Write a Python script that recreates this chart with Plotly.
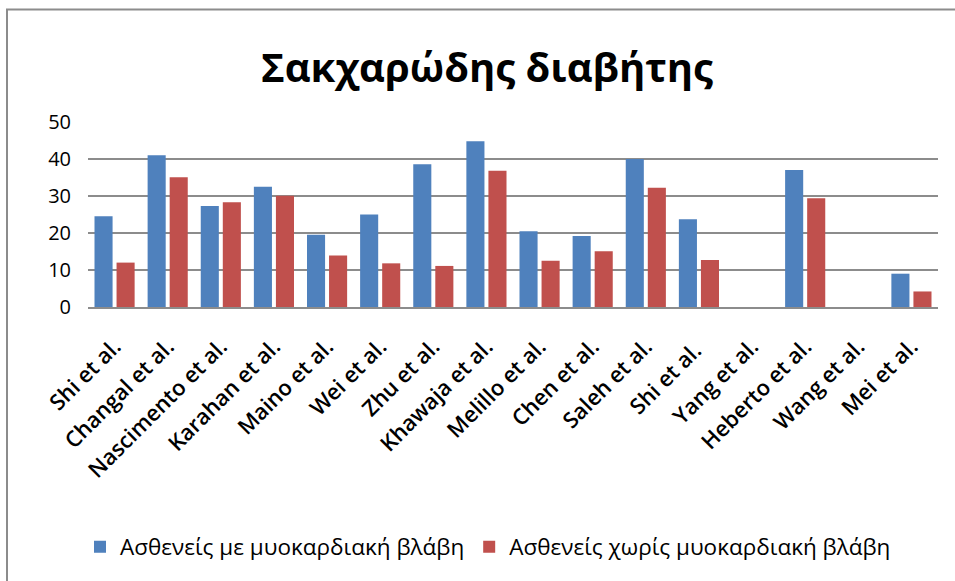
import plotly.graph_objects as go

categories = ["Shi et al.", "Changal et al.", "Nascimento et al.", "Karahan et al.",
              "Maino et al.", "Wei et al.", "Zhu et al.", "Khawaja et al.",
              "Melillo et al.", "Chen et al.", "Saleh et al.", "Shi et al. ",
              "Yang et al.", "Heberto et al.", "Wang et al.", "Mei et al."]
with_injury = [24.5, 41.0, 27.3, 32.5, 19.5, 25.0, 38.6, 44.8,
               20.5, 19.2, 40.0, 23.7, None, 37.0, None, 9.0]
without_injury = [12.0, 35.1, 28.3, 30.1, 13.9, 11.8, 11.1, 36.8,
                  12.5, 15.1, 32.2, 12.7, None, 29.4, None, 4.2]
series_names = ["Ασθενείς με μυοκαρδιακή βλάβη", "Ασθενείς χωρίς μυοκαρδιακή βλάβη"]
title_text = "Σακχαρώδης διαβήτης"

W, H = 955, 581
ML, MR, MT, MB = 88, 17, 122, 274
PW, PH = W - ML - MR, H - MT - MB

fig = go.Figure()
fig.add_trace(go.Bar(x=categories, y=with_injury, name=series_names[0],
                     marker=dict(color="#4F81BD", line=dict(width=0))))
fig.add_trace(go.Bar(x=categories, y=without_injury, name=series_names[1],
                     marker=dict(color="#C0504D", line=dict(width=0))))

def px_x(p):
    return (p - ML) / PW

def px_y(p):
    return (H - MB - p) / PH

fig.update_layout(
    width=W, height=H,
    margin=dict(l=ML, r=MR, t=MT, b=MB, pad=0),
    paper_bgcolor="white", plot_bgcolor="white",
    barmode="group", bargap=0.17, bargroupgap=0.18,
    title=dict(text="<b>" + title_text + "</b>", xref="container", x=487 / W,
               xanchor="center", yref="container", y=1 - 68 / H, yanchor="middle",
               font=dict(family="Open Sans", size=40, color="black")),
    xaxis=dict(type="category", tickangle=-45, showgrid=False, ticks="",
               showline=True, linecolor="#8C8C8C", linewidth=2,
               ticklabelstandoff=16,
               tickfont=dict(family="Open Sans", size=22, color="black", weight=600)),
    yaxis=dict(range=[0, 50], dtick=10, showgrid=True, gridcolor="#8C8C8C",
               gridwidth=2, zeroline=False, showline=False, ticks="",
               ticklabelstandoff=16,
               tickfont=dict(family="Open Sans", size=20, color="black")),
    legend=dict(orientation="h", x=px_x(488), xanchor="center",
                y=px_y(547), yanchor="middle",
                font=dict(family="Open Sans", size=22.5, color="black"),
                itemwidth=30, tracegroupgap=0, entrywidthmode="pixels"),
    showlegend=True,
)

# chart area border (left and top visible)
fig.add_shape(type="rect", xref="paper", yref="paper",
              x0=px_x(7), x1=px_x(W + 10), y0=px_y(H + 10), y1=px_y(9.5),
              line=dict(color="#8C8C8C", width=2), fillcolor="rgba(0,0,0,0)", layer="below")

fig.write_html("out.html")
